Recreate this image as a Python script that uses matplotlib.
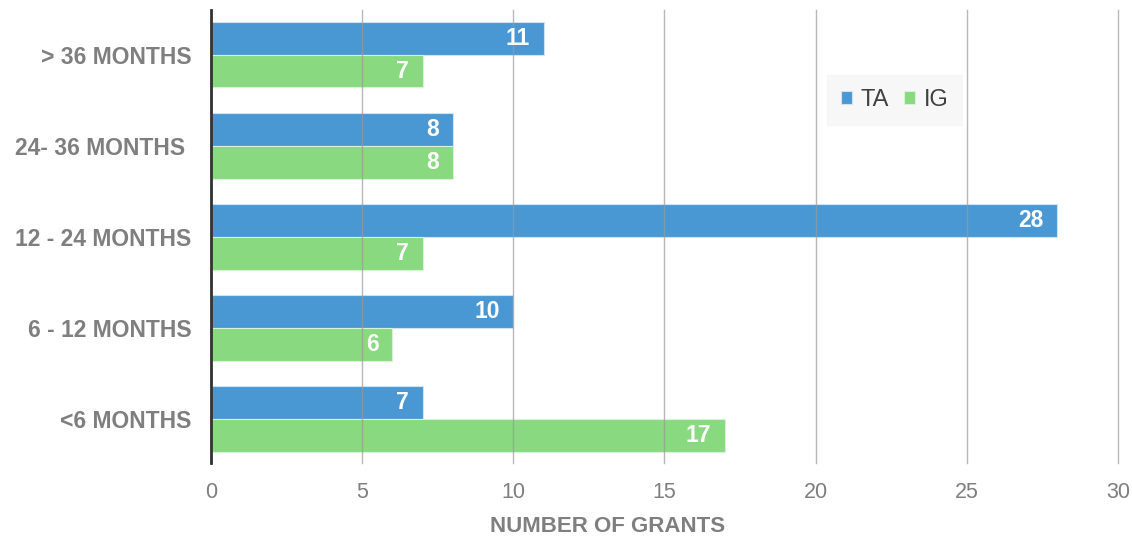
import matplotlib.pyplot as plt
import numpy as np

categories = ["<6 MONTHS", "6 - 12 MONTHS", "12 - 24 MONTHS", "24- 36 MONTHS ", "> 36 MONTHS"]
ta_values = [7, 10, 28, 8, 11]
ig_values = [17, 6, 7, 8, 7]
x_ticks = [0, 5, 10, 15, 20, 25, 30]

TA_COLOR = "#4a98d3"
IG_COLOR = "#88d97f"
GRAY = "#7f7f7f"

plt.rcParams['font.family'] = ['Liberation Sans', 'DejaVu Sans']

fig = plt.figure(figsize=(11.32, 5.39), dpi=100)
ax = fig.add_axes([0.1864, 0.141, 0.8012, 0.8404])

y = np.arange(len(categories))
h = 0.36
ta_bars = ax.barh(y + h / 2, ta_values, height=h, color=TA_COLOR, edgecolor="#cfe3f3",
                  linewidth=0.8, label="TA", zorder=2)
ig_bars = ax.barh(y - h / 2, ig_values, height=h, color=IG_COLOR, edgecolor="#d8f2d5",
                  linewidth=0.8, label="IG", zorder=2)

# value labels inside the bar ends
for bars in (ta_bars, ig_bars):
    for b in bars:
        w = b.get_width()
        ax.text(w - 0.45, b.get_y() + b.get_height() / 2, str(int(w)), ha="right", va="center",
                color="white", fontsize=16.5, fontweight="bold", zorder=4)

ax.set_xlim(0, 30)
ax.set_ylim(-0.48, 4.49)
ax.set_xticks(x_ticks)
ax.set_yticks(y)
ax.set_yticklabels(categories, fontsize=16.5, fontweight="bold", color=GRAY)
ax.tick_params(axis="x", labelsize=15.5, colors=GRAY, length=0, pad=14)
ax.tick_params(axis="y", length=0, pad=14)

ax.grid(axis="x", color="#9a9a9a", linewidth=1.0, alpha=0.7, zorder=3)
for gl in ax.get_xgridlines():
    gl.set_clip_on(False)
ax.set_axisbelow(False)
for s in ("top", "right", "bottom"):
    ax.spines[s].set_visible(False)
ax.spines["left"].set_color("#333333")
ax.spines["left"].set_linewidth(2)
ax.spines["left"].set_zorder(5)

ax.set_xlabel("NUMBER OF GRANTS", fontsize=16, fontweight="bold", color=GRAY, va="center")
ax.xaxis.set_label_coords(0.437, -0.141)

leg = ax.legend(loc="upper left", bbox_to_anchor=(0.679, 0.857), ncol=2, frameon=True,
                fontsize=17, handlelength=0.47, handleheight=0.47, handletextpad=0.35,
                columnspacing=0.65, borderpad=0.6, borderaxespad=0, fancybox=False)
leg.get_frame().set_facecolor("#f5f5f5")
leg.get_frame().set_edgecolor("#f5f5f5")
for t in leg.get_texts():
    t.set_color("#404040")

fig.savefig("out.png", dpi=100)
